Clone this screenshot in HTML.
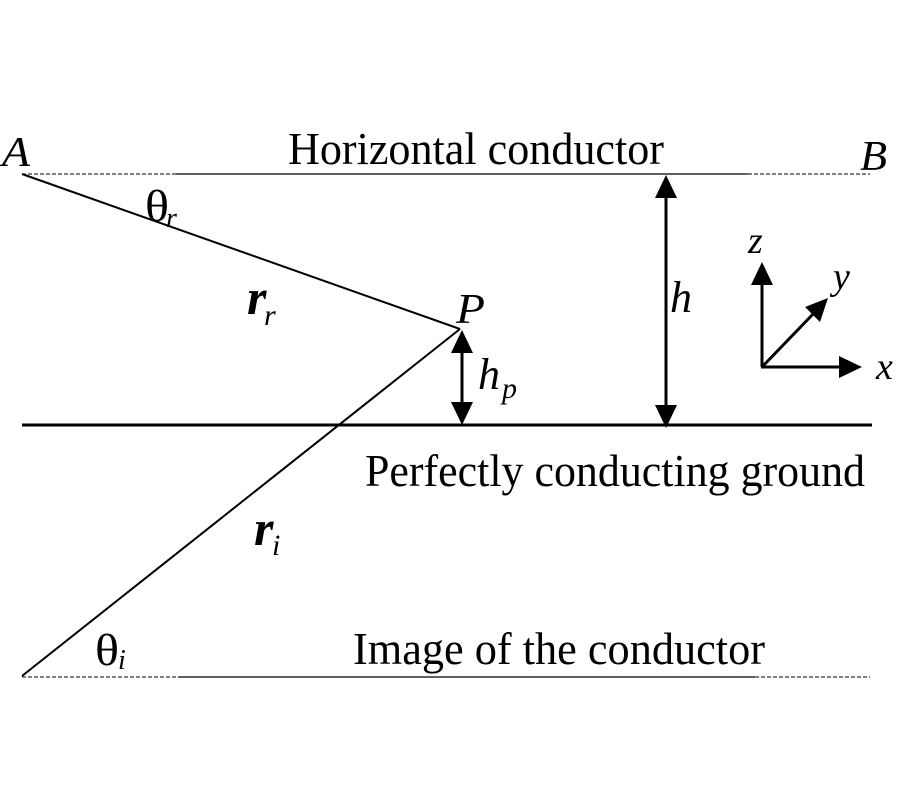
<!DOCTYPE html>
<html><head><meta charset="utf-8"><style>
html,body{margin:0;padding:0;background:#fff;}
svg{display:block;}
text{font-family:"Liberation Serif",serif;fill:#000;}
.i{font-style:italic;}
</style></head><body>
<svg width="900" height="800" viewBox="0 0 900 800" xmlns="http://www.w3.org/2000/svg">
<line x1="22" y1="174" x2="176" y2="174" stroke="#000" stroke-width="1" stroke-dasharray="4,2"/>
<line x1="176" y1="174" x2="748" y2="174" stroke="#000" stroke-width="1.2"/>
<line x1="748" y1="174" x2="870" y2="174" stroke="#000" stroke-width="1" stroke-dasharray="4,2"/>
<line x1="22" y1="677" x2="178" y2="677" stroke="#000" stroke-width="1" stroke-dasharray="4,2"/>
<line x1="178" y1="677" x2="755" y2="677" stroke="#000" stroke-width="1.2"/>
<line x1="755" y1="677" x2="870" y2="677" stroke="#000" stroke-width="1" stroke-dasharray="4,2"/>
<line x1="22" y1="425" x2="872" y2="425" stroke="#000" stroke-width="3"/>
<line x1="22" y1="174" x2="460" y2="329" stroke="#000" stroke-width="2"/>
<line x1="22" y1="676" x2="460" y2="329" stroke="#000" stroke-width="2"/>
<line x1="462" y1="345" x2="462" y2="410" stroke="#000" stroke-width="3"/>
<polygon points="462,330 451,353 473,353" fill="#000"/>
<polygon points="462,425 451,402 473,402" fill="#000"/>
<line x1="666" y1="190" x2="666" y2="410" stroke="#000" stroke-width="3"/>
<polygon points="666,175 655,198 677,198" fill="#000"/>
<polygon points="666,428 655,405 677,405" fill="#000"/>
<line x1="762" y1="367" x2="762" y2="282" stroke="#000" stroke-width="3"/>
<polygon points="762,262 751,285 773,285" fill="#000"/>
<line x1="761" y1="367" x2="845" y2="367" stroke="#000" stroke-width="3"/>
<polygon points="862,367 839,356 839,378" fill="#000"/>
<line x1="762" y1="367" x2="815" y2="312" stroke="#000" stroke-width="3"/>
<polygon points="828,298 805,307 820,322" fill="#000"/>
<text x="288" y="164" font-size="46" textLength="376" lengthAdjust="spacingAndGlyphs">Horizontal conductor</text>
<text x="365" y="486" font-size="46" textLength="500" lengthAdjust="spacingAndGlyphs">Perfectly conducting ground</text>
<text x="353" y="664" font-size="46" textLength="412" lengthAdjust="spacingAndGlyphs">Image of the conductor</text>
<text x="2" y="166" font-size="42" class="i" textLength="28" lengthAdjust="spacingAndGlyphs">A</text>
<text x="860" y="170" font-size="42" class="i" textLength="27" lengthAdjust="spacingAndGlyphs">B</text>
<text x="456" y="323" font-size="42" class="i" textLength="29" lengthAdjust="spacingAndGlyphs">P</text>
<text x="670" y="312" font-size="44" class="i">h</text>
<text x="478" y="389" font-size="44" class="i">h</text>
<text x="502" y="398" font-size="30" class="i">p</text>
<text x="145" y="221" font-size="44" textLength="24" lengthAdjust="spacingAndGlyphs">θ</text>
<text x="166" y="227" font-size="28" class="i">r</text>
<text x="95" y="665" font-size="44" textLength="24" lengthAdjust="spacingAndGlyphs">θ</text>
<text x="118" y="669" font-size="28" class="i">i</text>
<text x="247" y="314" font-size="50" class="i" font-weight="bold">r</text>
<text x="264" y="325" font-size="30" class="i">r</text>
<text x="254" y="545" font-size="50" class="i" font-weight="bold">r</text>
<text x="272" y="555" font-size="30" class="i">i</text>
<text x="748" y="253" font-size="38" class="i">z</text>
<text x="833" y="289" font-size="38" class="i">y</text>
<text x="876" y="379" font-size="38" class="i">x</text>
</svg>
</body></html>
